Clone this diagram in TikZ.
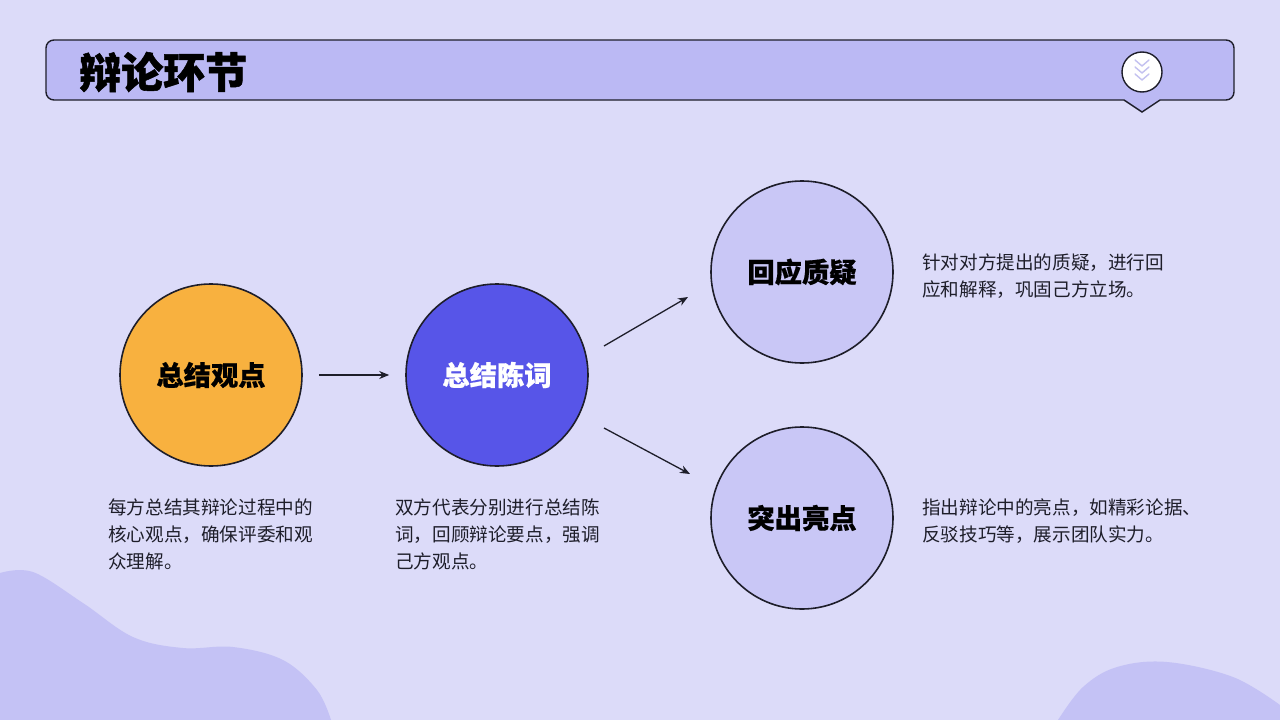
\documentclass[tikz,border=0pt]{standalone}
\usepackage{fontspec}
\setmainfont{Noto Sans CJK SC}
\newfontfamily\heavyfont[BoldFeatures={FakeBold=1.3}]{Noto Sans CJK SC}
\newfontfamily\semiheavyfont[BoldFeatures={FakeBold=0.6}]{Noto Sans CJK SC}
\usetikzlibrary{arrows.meta,calc}
\definecolor{bgc}{HTML}{DCDBF9}
\definecolor{blobc}{HTML}{C4C2F5}
\definecolor{barc}{HTML}{BBB9F4}
\definecolor{orangec}{HTML}{F8B13F}
\definecolor{bluec}{HTML}{5755E8}
\definecolor{lightc}{HTML}{C9C7F6}
\definecolor{chevc}{HTML}{C3C1F0}
\definecolor{inkc}{HTML}{1E1E2A}
\tikzset{
  bubble/.style={circle, draw=inkc, line width=1.6pt, minimum size=182pt, inner sep=0pt,
    font=\fontsize{27.3}{31}\selectfont\semiheavyfont\bfseries},
  desc/.style={anchor=north west, inner sep=0pt, align=left, text=inkc,
    font=\fontsize{18.6}{27}\selectfont},
  conn/.style={draw=inkc, line width=1.3pt, -{Stealth[length=10pt,width=8pt]}}
}
\begin{document}
\begin{tikzpicture}[x=1pt,y=-1pt]
\useasboundingbox (0,0) rectangle (1280,720);
\fill[bgc] (0,0) rectangle (1280,720);
% decorative blobs
\fill[blobc] (0,720) -- (0,573) -- plot[smooth, tension=0.6] coordinates {(0,573) (33,572) (83,603) (133,637) (183,648) (233,647) (283,660) (317,690) (331,720)} -- cycle;
\fill[blobc] (1058,720) -- plot[smooth, tension=0.6] coordinates {(1058,720) (1083,687) (1117,667) (1167,662) (1233,677) (1280,705)} -- (1280,720) -- cycle;
% title bar
\draw[fill=barc, draw=inkc, line width=1.4pt] (1142,112) -- (1124,100) [rounded corners=8pt] -- (46,100) -- (46,40) -- (1234,40) -- (1234,100) [sharp corners] -- (1160,100) -- cycle;
\node[anchor=west, inner sep=0pt, font=\fontsize{42}{46}\selectfont\heavyfont\bfseries, text=black] (title) at (79,72) {辩论环节};
\node[circle, fill=white, draw=inkc, line width=1.4pt, minimum size=40pt, inner sep=0pt] (icon) at (1142,72) {};
\foreach \yy in {-9,-2,5}{
  \draw[chevc, line width=1.4pt, line cap=round, line join=round] ($(icon.center)+(-7,\yy-3)$) -- ($(icon.center)+(0,\yy+3)$) -- ($(icon.center)+(7,\yy-3)$);
}
% circles
\node[bubble, fill=orangec, text=black] (a) at (211,375) {总结观点};
\node[bubble, fill=bluec, text=white] (b) at (497,375) {总结陈词};
\node[bubble, fill=lightc, text=black] (c) at (802,272) {回应质疑};
\node[bubble, fill=lightc, text=black] (d) at (802,518) {突出亮点};
% connectors
\draw[conn] ([xshift=16pt]a.east) -- ([xshift=-16pt]b.west);
\draw[conn] ($(b.center)+(107,-29)$) -- ($(c.center)+(-114,25)$);
\draw[conn] ($(b.center)+(107,53)$) -- ($(d.center)+(-112,-44)$);
% descriptions
\node[desc] (ta) at (108,499) {每方总结其辩论过程中的\\核心观点，确保评委和观\\众理解。};
\node[desc] (tb) at (395,499) {双方代表分别进行总结陈\\词，回顾辩论要点，强调\\己方观点。};
\node[desc] (tc) at (922,254) {针对对方提出的质疑，进行回\\应和解释，巩固己方立场。};
\node[desc] (td) at (922,499) {指出辩论中的亮点，如精彩论据、\\反驳技巧等，展示团队实力。};
\end{tikzpicture}
\end{document}
